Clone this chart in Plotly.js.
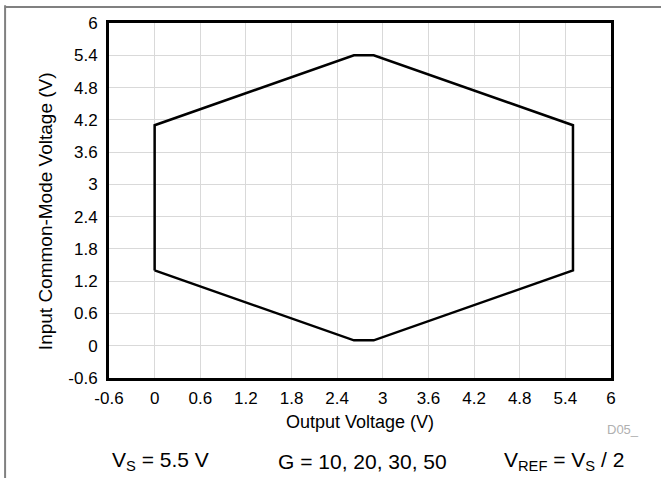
<!DOCTYPE html>
<html>
<head>
<meta charset="utf-8">
<script src="https://cdn.plot.ly/plotly-3.0.1.min.js"></script>
<style>html,body{margin:0;padding:0;background:#fff;}#chart{width:661px;height:478px;}</style>
</head>
<body>
<div id="chart"></div>
<script>
// Data (polygon vertices, closed)
const outputVoltage = [0, 0, 2.62, 2.88, 5.5, 5.5, 2.88, 2.62, 0];
const inputCMVoltage = [1.4, 4.1, 5.4, 5.4, 4.1, 1.4, 0.1, 0.1, 1.4];
const tickVals = [-0.6, 0, 0.6, 1.2, 1.8, 2.4, 3, 3.6, 4.2, 4.8, 5.4, 6];
const tickText = ["-0.6", "0", "0.6", "1.2", "1.8", "2.4", "3", "3.6", "4.2", "4.8", "5.4", "6"];

const FONT = "Liberation Sans, Arial, Helvetica, sans-serif";

const trace = {
  x: outputVoltage,
  y: inputCMVoltage,
  type: "scatter",
  mode: "lines",
  line: {color: "#000", width: 2.5},
  hoverinfo: "skip",
  showlegend: false
};

const axisCommon = {
  range: [-0.6, 6],
  tickmode: "array",
  tickvals: tickVals,
  ticktext: tickText,
  showgrid: true,
  gridcolor: "#d9d9d9",
  gridwidth: 1,
  zeroline: false,
  showline: true,
  linecolor: "#000",
  linewidth: 3,
  mirror: true,
  ticks: "",
  tickfont: {family: FONT, size: 17, color: "#000"}
};

const layout = {
  width: 661,
  height: 478,
  margin: {l: 109, r: 50, t: 23, b: 100},
  paper_bgcolor: "#fff",
  plot_bgcolor: "#fff",
  font: {family: FONT, color: "#000"},
  xaxis: Object.assign({}, axisCommon, {
    title: {text: "Output Voltage (V)", font: {family: FONT, size: 18, color: "#000"}, standoff: 8},
    ticklabelstandoff: 3
  }),
  yaxis: Object.assign({}, axisCommon, {
    ticklabelstandoff: 5
  }),
  shapes: [
    {type: "line", xref: "paper", yref: "paper", x0: -0.207, x1: 1.2, y0: 1.045, y1: 1.045, line: {color: "#808080", width: 2}},
    {type: "line", xref: "paper", yref: "paper", x0: -0.207, x1: -0.207, y0: 1.05, y1: -0.3, line: {color: "#808080", width: 2}}
  ],
  annotations: [
    {text: "Input Common-Mode Voltage (V)", xref: "paper", yref: "paper", x: -0.1275, y: 0.47, textangle: -90, xanchor: "center", yanchor: "middle", showarrow: false, font: {family: FONT, size: 19, color: "#000"}},
    {text: "D05_", xref: "paper", yref: "paper", x: 1.024, y: -0.146, xanchor: "center", yanchor: "middle", showarrow: false, font: {family: FONT, size: 13, color: "#b0b0b0"}},
    {text: "V<sub>S</sub> = 5.5 V", xref: "paper", yref: "paper", x: 0.1016, y: -0.234, xanchor: "center", yanchor: "middle", showarrow: false, font: {family: FONT, size: 21, color: "#000"}},
    {text: "G = 10, 20, 30, 50", xref: "paper", yref: "paper", x: 0.504, y: -0.234, xanchor: "center", yanchor: "middle", showarrow: false, font: {family: FONT, size: 21, color: "#000"}},
    {text: "V<sub>REF</sub> = V<sub>S</sub> / 2", xref: "paper", yref: "paper", x: 0.906, y: -0.234, xanchor: "center", yanchor: "middle", showarrow: false, font: {family: FONT, size: 21, color: "#000"}}
  ]
};

Plotly.newPlot("chart", [trace], layout, {displayModeBar: false, staticPlot: true});
</script>
</body>
</html>
